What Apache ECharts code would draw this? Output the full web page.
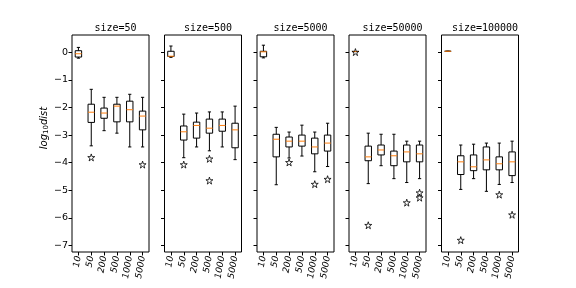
<!DOCTYPE html>
<html>
<head>
<meta charset="utf-8">
<script src="https://cdn.jsdelivr.net/npm/echarts@6/dist/echarts.min.js"></script>
<style>html,body{margin:0;padding:0;background:#fff;}#c{width:576px;height:288px;}</style>
</head>
<body>
<div id="c"></div>
<script>
const categories = ['10', '50', '200', '500', '1000', '5000'];
const panelTitles = ['size=50', 'size=500', 'size=5000', 'size=50000', 'size=100000'];
const yTicks = [-7, -6, -5, -4, -3, -2, -1, 0];

// [whisker low, Q1, median, Q3, whisker high] per category
const stats50 = [
  [-0.21, -0.17, -0.05, 0.06, 0.18],
  [-3.39, -2.54, -2.17, -1.88, -1.34],
  [-2.84, -2.39, -2.20, -2.02, -1.63],
  [-2.93, -2.52, -1.95, -1.88, -1.63],
  [-3.43, -2.52, -2.08, -1.77, -1.52],
  [-3.43, -2.81, -2.31, -2.13, -1.63]
];
const stats500 = [
  [-0.18, -0.15, -0.14, 0.04, 0.23],
  [-3.82, -3.18, -2.88, -2.67, -2.24],
  [-3.43, -3.11, -2.65, -2.53, -2.20],
  [-3.57, -2.93, -2.75, -2.42, -2.16],
  [-3.43, -2.86, -2.65, -2.42, -2.16],
  [-3.89, -3.46, -2.81, -2.57, -1.95]
];
const stats5000 = [
  [-0.20, -0.16, 0.02, 0.04, 0.26],
  [-4.80, -3.79, -3.15, -2.97, -2.72],
  [-3.83, -3.43, -3.22, -3.07, -2.89],
  [-3.76, -3.40, -3.22, -3.00, -2.64],
  [-4.33, -3.68, -3.43, -3.11, -2.89],
  [-4.14, -3.58, -3.29, -3.00, -2.57]
];
const stats50000 = [
  [0.03, 0.03, 0.03, 0.03, 0.03],
  [-4.76, -3.93, -3.79, -3.40, -2.93],
  [-4.11, -3.72, -3.54, -3.36, -2.97],
  [-4.58, -4.11, -3.75, -3.58, -2.97],
  [-4.72, -3.97, -3.61, -3.36, -3.22],
  [-4.58, -3.97, -3.68, -3.36, -3.22]
];
const stats100000 = [
  [0.04, 0.04, 0.04, 0.04, 0.04],
  [-4.97, -4.43, -3.97, -3.75, -3.36],
  [-4.58, -4.29, -4.15, -3.72, -3.33],
  [-5.04, -4.26, -3.90, -3.43, -3.29],
  [-4.79, -4.26, -4.04, -3.79, -3.29],
  [-4.72, -4.47, -3.97, -3.61, -3.22]
];

// [category index, value]
const outliers50 = [[1, -3.81], [5, -4.07]];
const outliers500 = [[1, -4.07], [3, -3.86], [3, -4.65]];
const outliers5000 = [[2, -3.99], [4, -4.78], [5, -4.60]];
const outliers50000 = [[0, 0.01], [1, -6.27], [4, -5.45], [5, -5.09], [5, -5.27]];
const outliers100000 = [[1, -6.81], [4, -5.16], [5, -5.89]];

const allStats = [stats50, stats500, stats5000, stats50000, stats100000];
const allOutliers = [outliers50, outliers500, outliers5000, outliers50000, outliers100000];

const chart = echarts.init(document.getElementById('c'), null, {renderer: 'canvas'});

const lefts = [72, 164.5, 257, 349, 441.5];
const gridW = 77, gridTop = 35, gridH = 217;
const yMin = -7.24, yMax = 0.63;
const starPath = 'path://M0,-1 L0.2245,-0.309 L0.951,-0.309 L0.363,0.118 L0.588,0.809 L0,0.382 L-0.588,0.809 L-0.363,0.118 L-0.951,-0.309 L-0.2245,-0.309 Z';
const fontFam = 'DejaVu Sans';

const grids = [], xAxes = [], yAxes = [], series = [], titles = [];
for (let p = 0; p < 5; p++) {
  grids.push({left: lefts[p], top: gridTop, width: gridW, height: gridH, show: true,
    borderColor: '#000', borderWidth: 1, backgroundColor: 'transparent', containLabel: false});
  xAxes.push({type: 'category', gridIndex: p, data: categories, boundaryGap: true, position: 'bottom',
    axisLine: {show: false, onZero: false},
    axisTick: {show: true, alignWithLabel: true, length: 3.5, lineStyle: {color: '#000', width: 1}},
    axisLabel: {rotate: 80, fontSize: 9, color: '#000', fontFamily: fontFam, fontStyle: 'italic', margin: 4, interval: 0},
    splitLine: {show: false}});
  yAxes.push({type: 'value', gridIndex: p, min: yMin, max: yMax, position: 'left',
    axisLine: {show: false, onZero: false},
    axisTick: {show: true, length: 3.5, customValues: yTicks, lineStyle: {color: '#000', width: 1}},
    axisLabel: {show: p === 0, customValues: yTicks, fontSize: 9.5, color: '#000', fontFamily: fontFam, margin: 4,
      formatter: v => String(v).replace('-', '\u2212')},
    splitLine: {show: false}});
  titles.push({text: panelTitles[p], left: lefts[p] + gridW / 2, top: 18, textAlign: 'center',
    textStyle: {fontSize: 10, fontWeight: 'normal', color: '#000', fontFamily: 'DejaVu Sans Mono'}});

  const boxData = allStats[p].map((s, i) => [i].concat(s));
  series.push({
    type: 'custom', xAxisIndex: p, yAxisIndex: p, data: boxData, clip: false,
    renderItem: function (params, api) {
      const ci = api.value(0);
      const lo = api.coord([ci, api.value(1)]);
      const q1 = api.coord([ci, api.value(2)]);
      const md = api.coord([ci, api.value(3)]);
      const q3 = api.coord([ci, api.value(4)]);
      const hi = api.coord([ci, api.value(5)]);
      const band = api.size([1, 0])[0];
      const hw = band * 0.25, cw = band * 0.125;
      const x = lo[0];
      const ls = {stroke: '#000', lineWidth: 1, fill: null};
      return {type: 'group', children: [
        {type: 'line', shape: {x1: x, y1: q1[1], x2: x, y2: lo[1]}, style: ls},
        {type: 'line', shape: {x1: x, y1: q3[1], x2: x, y2: hi[1]}, style: ls},
        {type: 'line', shape: {x1: x - cw, y1: lo[1], x2: x + cw, y2: lo[1]}, style: ls},
        {type: 'line', shape: {x1: x - cw, y1: hi[1], x2: x + cw, y2: hi[1]}, style: ls},
        {type: 'rect', shape: {x: x - hw, y: q3[1], width: 2 * hw, height: q1[1] - q3[1]}, style: ls},
        {type: 'line', shape: {x1: x - hw, y1: md[1], x2: x + hw, y2: md[1]}, style: {stroke: '#ff7f0e', lineWidth: 1}}
      ]};
    }
  });
  series.push({
    type: 'scatter', xAxisIndex: p, yAxisIndex: p, data: allOutliers[p],
    symbol: starPath, symbolSize: 7, z: 5,
    itemStyle: {color: 'rgba(255,255,255,0)', borderColor: '#000', borderWidth: 1}
  });
}

chart.setOption({
  animation: false,
  backgroundColor: '#fff',
  title: titles,
  grid: grids,
  xAxis: xAxes,
  yAxis: yAxes,
  series: series,
  graphic: [{
    type: 'text', x: 44, y: 128, rotation: Math.PI / 2,
    style: {
      text: '{i|log}{s|10}{i|dist}',
      align: 'center', verticalAlign: 'middle',
      rich: {
        i: {fontSize: 10, fontStyle: 'italic', fontFamily: fontFam, fill: '#000', lineHeight: 12, verticalAlign: 'middle'},
        s: {fontSize: 7, fontFamily: fontFam, fill: '#000', lineHeight: 12, verticalAlign: 'bottom'}
      }
    }
  }]
});
</script>
</body>
</html>
